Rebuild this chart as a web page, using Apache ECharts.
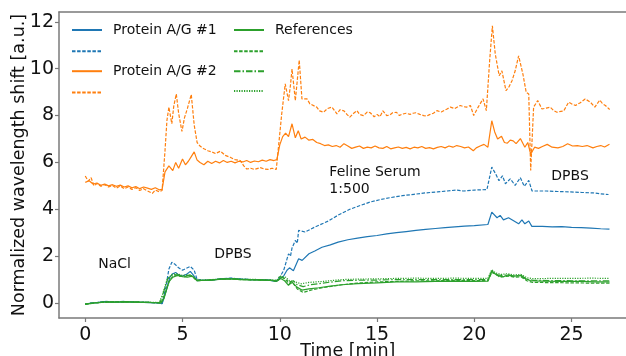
<!DOCTYPE html>
<html><head><meta charset="utf-8">
<script src="https://cdn.jsdelivr.net/npm/echarts@6/dist/echarts.min.js"></script>
<style>html,body{margin:0;padding:0;background:#fff}#c{width:626px;height:356px}</style>
</head><body><div id="c"></div>
<script>
// ---- data (time [min], normalized wavelength shift [a.u.]) ----
const xTicks = [0, 5, 10, 15, 20, 25];
const yTicks = [0, 2, 4, 6, 8, 10, 12];

const ag1Solid = [[0,-0.05],[0.3,0.0],[0.6,0.02],[1.0,0.06],[1.3,0.05],[1.7,0.04],[2.0,0.06],[2.3,0.05],[2.6,0.04],[3.0,0.03],[3.4,0.02],[3.8,0.0],[3.95,-0.03],[4.15,0.5],[4.35,1.1],[4.5,1.25],[4.65,1.3],[4.8,1.2],[5.0,1.15],[5.2,1.22],[5.4,1.35],[5.55,1.2],[5.75,0.95],[6.0,0.97],[6.5,0.98],[7.0,1.03],[7.5,1.05],[8.0,1.02],[8.5,1.0],[9.0,1.0],[9.5,0.98],[9.8,0.92],[10.0,1.05],[10.2,1.15],[10.37,1.4],[10.5,1.5],[10.7,1.38],[10.97,1.89],[11.15,1.82],[11.5,2.1],[11.8,2.22],[12.17,2.38],[12.6,2.48],[13.0,2.6],[13.5,2.7],[14.0,2.77],[14.5,2.83],[15.0,2.88],[15.5,2.95],[16.0,3.0],[16.5,3.05],[17.0,3.1],[17.5,3.14],[18.0,3.18],[18.5,3.22],[19.0,3.25],[19.5,3.28],[20.0,3.3],[20.7,3.35],[20.9,3.88],[21.17,3.64],[21.33,3.74],[21.5,3.55],[21.76,3.64],[22.0,3.52],[22.28,3.38],[22.45,3.55],[22.6,3.38],[22.8,3.5],[22.96,3.27],[23.5,3.27],[24.0,3.25],[24.5,3.26],[25.0,3.23],[25.5,3.22],[26.0,3.2],[26.5,3.17],[26.95,3.15]];

const ag1Dash = [[0,-0.05],[0.3,0.0],[0.6,0.02],[1.0,0.07],[1.3,0.05],[1.7,0.05],[2.0,0.07],[2.3,0.05],[2.6,0.04],[3.0,0.03],[3.4,0.02],[3.8,0.0],[3.95,-0.03],[4.15,0.7],[4.3,1.45],[4.45,1.74],[4.63,1.64],[4.8,1.5],[5.0,1.4],[5.2,1.48],[5.4,1.56],[5.6,1.4],[5.74,1.03],[6.0,0.97],[6.5,0.98],[7.0,1.04],[7.5,1.06],[8.0,1.02],[8.5,1.0],[9.0,1.0],[9.5,0.97],[9.8,0.92],[10.0,1.1],[10.2,1.39],[10.45,2.1],[10.55,2.0],[10.63,2.35],[10.8,2.67],[10.9,2.55],[10.97,3.1],[11.3,3.03],[11.8,3.24],[12.5,3.5],[13.0,3.75],[13.6,4.0],[14.1,4.15],[14.65,4.31],[15.2,4.42],[15.7,4.5],[16.3,4.58],[16.9,4.64],[17.5,4.7],[18.1,4.74],[18.6,4.78],[19.1,4.82],[19.45,4.78],[20.0,4.82],[20.65,4.84],[20.9,5.8],[21.1,5.51],[21.27,5.22],[21.45,5.43],[21.6,5.09],[21.85,5.3],[22.1,5.02],[22.37,5.35],[22.57,4.98],[22.8,5.23],[22.97,4.78],[23.7,4.78],[24.3,4.76],[24.93,4.74],[25.5,4.72],[26.1,4.7],[26.5,4.66],[26.9,4.63]];

const ag2Solid = [[0,5.15],[0.2,5.22],[0.4,5.08],[0.6,5.12],[0.8,5.02],[1.0,5.08],[1.2,5.0],[1.4,5.05],[1.6,4.98],[1.8,5.03],[2.0,4.95],[2.2,5.0],[2.4,4.92],[2.6,4.97],[2.8,4.88],[3.0,4.95],[3.2,4.9],[3.4,4.85],[3.6,4.92],[3.8,4.83],[3.95,4.85],[4.1,5.6],[4.3,5.85],[4.5,5.65],[4.65,6.0],[4.8,5.75],[5.0,6.15],[5.15,5.9],[5.3,6.05],[5.45,6.25],[5.6,6.45],[5.75,6.1],[5.9,6.0],[6.1,5.9],[6.3,6.05],[6.5,5.95],[6.7,6.05],[6.9,5.98],[7.1,6.08],[7.3,6.0],[7.5,6.05],[7.7,5.98],[7.9,6.05],[8.1,6.02],[8.3,6.08],[8.5,6.0],[8.7,6.06],[8.9,6.03],[9.1,6.1],[9.3,6.05],[9.5,6.12],[9.7,6.08],[9.85,6.12],[10.0,6.75],[10.15,7.1],[10.3,7.25],[10.45,7.1],[10.63,7.65],[10.8,7.05],[10.95,7.35],[11.1,7.0],[11.3,7.08],[11.5,6.95],[11.7,6.98],[11.9,6.85],[12.1,6.8],[12.3,6.72],[12.5,6.75],[12.7,6.68],[12.9,6.72],[13.1,6.65],[13.3,6.8],[13.5,6.7],[13.7,6.6],[13.9,6.65],[14.1,6.7],[14.3,6.6],[14.5,6.65],[14.7,6.62],[14.9,6.7],[15.1,6.62],[15.3,6.6],[15.5,6.68],[15.7,6.58],[15.9,6.62],[16.1,6.66],[16.3,6.6],[16.5,6.64],[16.7,6.58],[16.9,6.65],[17.1,6.62],[17.3,6.68],[17.5,6.6],[17.7,6.63],[17.9,6.58],[18.1,6.64],[18.3,6.68],[18.5,6.62],[18.7,6.7],[18.9,6.65],[19.1,6.72],[19.3,6.68],[19.5,6.62],[19.7,6.66],[19.95,6.5],[20.1,6.62],[20.3,6.7],[20.5,6.77],[20.7,6.65],[20.9,7.78],[21.05,7.3],[21.2,7.0],[21.4,7.12],[21.55,6.85],[21.7,6.82],[21.85,6.95],[22.0,6.92],[22.15,6.8],[22.37,7.02],[22.6,6.65],[22.75,6.85],[22.9,6.35],[23.1,6.65],[23.3,6.6],[23.5,6.68],[23.75,6.77],[24.0,6.65],[24.3,6.62],[24.55,6.68],[24.8,6.8],[25.05,6.7],[25.3,6.72],[25.55,6.68],[25.8,6.72],[26.1,6.62],[26.3,6.68],[26.5,6.72],[26.7,6.66],[26.95,6.78]];

const ag2Dash = [[0,5.42],[0.15,5.2],[0.3,5.35],[0.45,5.0],[0.6,5.1],[0.8,4.98],[1.0,5.05],[1.2,4.95],[1.4,5.02],[1.6,4.9],[1.8,5.0],[2.0,4.88],[2.2,4.95],[2.4,4.85],[2.6,4.92],[2.8,4.8],[3.0,4.88],[3.2,4.78],[3.45,4.68],[3.6,4.82],[3.8,4.75],[3.95,4.8],[4.1,6.5],[4.2,7.8],[4.3,8.36],[4.45,7.65],[4.55,8.4],[4.68,8.92],[4.8,8.1],[4.97,7.32],[5.1,7.9],[5.25,8.3],[5.45,8.9],[5.6,7.6],[5.75,6.85],[5.9,6.7],[6.1,6.58],[6.3,6.5],[6.5,6.45],[6.7,6.38],[6.95,6.48],[7.2,6.3],[7.45,6.22],[7.7,6.12],[7.97,6.08],[8.15,5.85],[8.3,5.72],[8.5,5.75],[8.7,5.7],[9.0,5.78],[9.2,5.72],[9.4,5.7],[9.6,5.75],[9.82,5.7],[9.95,6.8],[10.1,8.07],[10.28,9.35],[10.45,8.64],[10.55,9.3],[10.63,9.99],[10.8,8.64],[10.9,9.5],[11.0,10.37],[11.14,8.71],[11.4,8.71],[11.55,8.5],[11.65,8.43],[11.9,8.36],[12.05,8.2],[12.25,8.14],[12.45,8.3],[12.68,8.36],[12.94,8.07],[13.1,8.25],[13.3,8.2],[13.45,8.05],[13.6,7.93],[13.8,8.1],[13.97,8.21],[14.1,8.05],[14.3,8.0],[14.5,8.15],[14.65,8.12],[14.85,7.95],[15.0,8.05],[15.15,7.95],[15.3,8.2],[15.5,8.0],[15.65,8.02],[15.8,8.12],[16.0,8.14],[16.15,8.0],[16.3,8.06],[16.5,8.1],[16.7,8.05],[16.85,8.1],[17.0,8.12],[17.2,8.05],[17.4,8.0],[17.55,7.98],[17.7,8.04],[17.9,8.1],[18.08,8.21],[18.3,8.15],[18.6,8.28],[18.77,8.36],[19.0,8.3],[19.28,8.43],[19.45,8.38],[19.6,8.36],[19.8,8.43],[19.97,8.0],[20.2,8.36],[20.45,8.71],[20.62,8.21],[20.79,10.34],[20.93,11.83],[21.08,10.62],[21.28,9.7],[21.42,9.91],[21.63,9.06],[21.8,9.25],[21.94,9.49],[22.1,9.9],[22.28,10.55],[22.5,9.77],[22.67,8.99],[22.8,8.92],[22.9,5.66],[23.05,8.36],[23.26,8.64],[23.48,8.28],[23.7,8.32],[23.9,8.36],[24.1,8.2],[24.25,8.14],[24.45,8.18],[24.6,8.2],[24.85,8.57],[25.0,8.5],[25.2,8.43],[25.45,8.55],[25.7,8.71],[25.97,8.57],[26.2,8.36],[26.45,8.66],[26.6,8.5],[26.74,8.43],[26.96,8.26]];

const refSolid = [[0,-0.05],[0.5,0.01],[1.0,0.04],[1.5,0.04],[2.0,0.05],[2.5,0.04],[3.0,0.03],[3.5,0.02],[3.9,0.0],[4.05,0.2],[4.3,0.9],[4.5,1.1],[4.75,1.18],[5.0,1.12],[5.25,1.1],[5.5,1.15],[5.75,0.95],[6.0,0.96],[6.5,0.98],[7.0,1.02],[7.5,1.03],[8.0,1.0],[8.5,0.99],[9.0,0.98],[9.5,0.97],[9.85,0.93],[10.05,1.05],[10.25,0.95],[10.45,0.75],[10.6,0.92],[10.88,0.68],[11.14,0.55],[11.5,0.6],[12.0,0.65],[12.6,0.72],[13.2,0.78],[14.0,0.83],[15.0,0.86],[16.0,0.9],[17.0,0.9],[18.0,0.92],[19.0,0.93],[20.0,0.92],[20.7,0.93],[20.9,1.38],[21.1,1.22],[21.3,1.15],[21.5,1.12],[21.75,1.2],[22.0,1.15],[22.37,1.17],[22.6,1.05],[22.9,0.95],[23.5,0.93],[24.5,0.92],[25.5,0.92],[26.2,0.9],[26.95,0.9]];

const refDash = [[0,-0.05],[0.5,0.0],[1.0,0.04],[1.5,0.05],[2.0,0.05],[2.5,0.04],[3.0,0.03],[3.5,0.02],[3.9,0.0],[4.1,0.4],[4.35,1.0],[4.6,1.2],[4.8,1.15],[5.1,1.12],[5.4,1.2],[5.55,1.1],[5.75,0.95],[6.0,0.96],[6.5,0.99],[7.0,1.02],[7.5,1.03],[8.0,1.0],[8.5,0.99],[9.0,0.98],[9.5,0.96],[9.85,0.93],[10.1,1.12],[10.3,1.0],[10.5,0.8],[10.65,0.88],[10.9,0.6],[11.2,0.45],[11.6,0.55],[12.2,0.65],[13.2,0.78],[14.0,0.85],[15.0,0.9],[16.0,0.92],[17.0,0.95],[18.0,0.95],[19.0,0.97],[20.0,0.96],[20.7,0.95],[20.9,1.3],[21.1,1.25],[21.3,1.1],[21.5,1.12],[21.8,1.15],[22.1,1.1],[22.4,1.12],[22.7,0.95],[23.0,0.88],[24.0,0.87],[25.0,0.86],[26.0,0.85],[26.95,0.85]];

const refDashDot = [[0,-0.05],[0.5,0.0],[1.0,0.04],[1.5,0.04],[2.0,0.05],[2.5,0.04],[3.0,0.03],[3.5,0.02],[3.85,0.02],[4.0,0.4],[4.25,1.05],[4.5,1.2],[4.75,1.2],[5.0,1.15],[5.3,1.18],[5.5,1.12],[5.75,0.97],[6.0,0.97],[6.5,0.99],[7.0,1.02],[7.5,1.03],[8.0,1.01],[8.5,1.0],[9.0,0.99],[9.5,0.98],[9.85,0.95],[10.0,1.12],[10.25,1.05],[10.5,0.9],[10.7,0.95],[10.9,0.78],[11.2,0.7],[11.6,0.78],[12.2,0.85],[13.2,0.95],[14.0,0.97],[15.0,0.98],[16.0,1.0],[17.0,1.0],[18.0,1.0],[19.0,1.0],[20.0,1.0],[20.7,1.0],[20.9,1.35],[21.1,1.2],[21.4,1.18],[21.7,1.2],[22.0,1.15],[22.4,1.18],[22.7,1.02],[23.0,0.97],[24.0,0.96],[25.0,0.95],[26.0,0.95],[26.95,0.95]];

const refDot = [[0,-0.04],[0.5,0.01],[1.0,0.05],[1.5,0.05],[2.0,0.06],[2.5,0.05],[3.0,0.04],[3.5,0.03],[3.8,0.02],[3.95,0.3],[4.2,1.0],[4.45,1.22],[4.7,1.25],[5.0,1.18],[5.3,1.2],[5.5,1.15],[5.75,1.0],[6.0,0.98],[6.5,1.0],[7.0,1.03],[7.5,1.04],[8.0,1.02],[8.5,1.01],[9.0,1.0],[9.5,0.99],[9.85,0.97],[10.0,1.15],[10.3,1.1],[10.5,0.95],[10.8,0.9],[11.1,0.82],[11.5,0.88],[12.2,0.92],[13.2,1.0],[14.0,1.02],[15.0,1.03],[16.0,1.05],[17.0,1.06],[18.0,1.05],[19.0,1.06],[20.0,1.05],[20.7,1.05],[20.9,1.42],[21.1,1.28],[21.4,1.22],[21.7,1.25],[22.0,1.2],[22.4,1.22],[22.7,1.08],[23.0,1.04],[24.0,1.05],[25.0,1.05],[26.0,1.06],[26.95,1.05]];

const annotations = [[0.67,1.65,'NaCl'],[6.63,2.07,'DPBS'],[12.55,5.21,'Feline Serum\n1:500'],[23.96,5.4,'DPBS']];

// ---- styling ----
const FONT = 'DejaVu Sans';
const BLUE = '#1f77b4', ORANGE = '#ff7f0e', GREEN = '#2ca02c';
const AX = '#7a7a7a';
const DASH = [3.5, 1.6], DASHDOT = [6.5, 2, 1.5, 2], DOT = [1.2, 1.3];
const LW = 1.2;

const seriesDefs = [
  {id:'ag1a', label:'Protein A/G #1', data:ag1Solid, color:BLUE, type:'solid'},
  {id:'ag1b', label:'', data:ag1Dash, color:BLUE, type:DASH},
  {id:'ag2a', label:'Protein A/G #2', data:ag2Solid, color:ORANGE, type:'solid'},
  {id:'ag2b', label:'', data:ag2Dash, color:ORANGE, type:DASH},
  {id:'refa', label:'References', data:refSolid, color:GREEN, type:'solid'},
  {id:'refb', label:'', data:refDash, color:GREEN, type:DASH},
  {id:'refc', label:'', data:refDashDot, color:GREEN, type:DASHDOT},
  {id:'refd', label:'', data:refDot, color:GREEN, type:DOT}
];
const labelOf = {};
seriesDefs.forEach(s => labelOf[s.id] = s.label);

const series = seriesDefs.map(s => ({
  name: s.id, type:'line', data:s.data, symbol:'none', showSymbol:false, silent:true,
  color: s.color,
  lineStyle:{color:s.color, width:LW, type:s.type},
  animation:false, z: 2
}));
series.push({
  name:'annot', type:'scatter', data:annotations, symbolSize:0, silent:true, animation:false,
  itemStyle:{opacity:1},
  label:{show:true, position:'right', distance:0, formatter:p=>p.data[2],
    fontFamily:FONT, fontSize:14, color:'#111', lineHeight:17, align:'left', opacity:1}
});

function legendCfg(left, ids){
  return {
    left:left, top:23, padding:0, orient:'vertical', itemWidth:30, itemHeight:14, itemGap:7.3,
    selectedMode:false, data:ids,
    itemStyle:{color:'transparent', borderColor:'transparent', borderWidth:0, opacity:0},
    formatter: n => labelOf[n] ? '{t|' + labelOf[n] + '}' : '',
    textStyle:{fontFamily:FONT, fontSize:14, color:'#111',
      rich:{t:{fontFamily:FONT, fontSize:14, color:'#111', padding:[0,0,0,6]}}}
  };
}

const chart = echarts.init(document.getElementById('c'), null, {renderer:'canvas'});
chart.setOption({
  backgroundColor:'#fff',
  animation:false,
  grid:{left:59, right:-10.7, top:12, bottom:38, containLabel:false, outerBoundsMode:'none'},
  legend:[legendCfg(71, ['ag1a','ag1b','ag2a','ag2b']), legendCfg(233, ['refa','refb','refc','refd'])],
  xAxis:[{
    type:'value', min:-1.35, max:28.35,
    name:'Time [min]', nameLocation:'middle', nameGap:24, nameMoveOverlap:false,
    nameTextStyle:{fontFamily:FONT, fontSize:17.5, color:'#111'},
    axisLine:{show:true, onZero:false, lineStyle:{color:AX, width:1.5}},
    axisTick:{show:true, length:4, lineStyle:{color:AX, width:1.2}, customValues:xTicks},
    axisLabel:{customValues:xTicks, fontFamily:FONT, fontSize:19, color:'#111', margin:8},
    splitLine:{show:false}
  },{
    type:'value', position:'top', min:-1.35, max:28.35,
    axisLine:{show:true, onZero:false, lineStyle:{color:AX, width:1.5}},
    axisTick:{show:false}, axisLabel:{show:false}, splitLine:{show:false}
  }],
  yAxis:{
    type:'value', min:-0.64, max:12.42,
    name:'Normalized wavelength shift [a.u.]', nameLocation:'middle', nameGap:31, nameMoveOverlap:false,
    nameTextStyle:{fontFamily:FONT, fontSize:17.5, color:'#111'},
    axisLine:{show:true, onZero:false, lineStyle:{color:AX, width:1.5}},
    axisTick:{show:true, length:4, lineStyle:{color:AX, width:1.2}, customValues:yTicks},
    axisLabel:{customValues:yTicks, fontFamily:FONT, fontSize:19, color:'#111', margin:5},
    splitLine:{show:false}
  },
  series: series
});
</script></body></html>
